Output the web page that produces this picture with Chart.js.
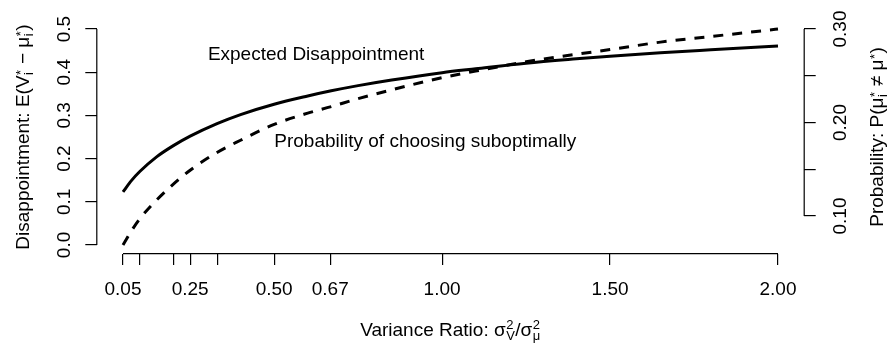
<!DOCTYPE html>
<html>
<head>
<meta charset="utf-8">
<script src="https://cdn.jsdelivr.net/npm/chart.js@4.4.1/dist/chart.umd.min.js"></script>
<style>
  html, body { margin: 0; padding: 0; background: #fff; }
  #wrap { width: 891px; height: 344px; }
</style>
</head>
<body>
<div id="wrap"><canvas id="grafico" width="891" height="344"></canvas></div>
<script>
// ratio de varianzas sigma_v^2 / sigma_mu^2
const ratio = [0.05, 0.075, 0.1, 0.15, 0.2, 0.25, 0.33, 0.4, 0.5, 0.6, 0.67, 0.75, 0.85, 1.0, 1.1, 1.25, 1.4, 1.5, 1.65, 1.8, 2.0];
// decepcion esperada (eje izquierdo)
const disappointment = [0.123, 0.149, 0.170, 0.204, 0.230, 0.252, 0.281, 0.302, 0.326, 0.345, 0.357, 0.369, 0.382, 0.399, 0.408, 0.421, 0.431, 0.437, 0.445, 0.452, 0.461];
// probabilidad de elegir mal (eje derecho)
const probSubopt = [0.069, 0.084, 0.097, 0.117, 0.134, 0.149, 0.168, 0.181, 0.198, 0.210, 0.217, 0.2255, 0.235, 0.248, 0.255, 0.265, 0.273, 0.278, 0.286, 0.292, 0.300];

const xTicks = [0.05, 0.1, 0.2, 0.25, 0.333, 0.5, 0.667, 1.0, 1.5, 2.0];
const xTickLabels = ['0.05', '', '', '0.25', '', '0.50', '0.67', '1.00', '1.50', '2.00'];
const leftTicks = [0, 0.1, 0.2, 0.3, 0.4, 0.5];
const leftTickLabels = ['0.0', '0.1', '0.2', '0.3', '0.4', '0.5'];
const rightTicks = [0.10, 0.15, 0.20, 0.25, 0.30];
const rightTickLabels = ['0.10', '', '0.20', '', '0.30'];

const FUENTE = '"Liberation Sans", Arial, Helvetica, sans-serif';
const NEGRO = '#000';

// rango con 4% extra a cada lado, como hace R
function ampliar(lo, hi) {
    const d = (hi - lo) * 0.04;
    return { min: lo - d, max: hi + d };
}
const rangoX = ampliar(Math.min(...ratio), Math.max(...ratio));
const rangoY = ampliar(leftTicks[0], leftTicks[leftTicks.length - 1]);
const rangoY2 = ampliar(Math.min(...probSubopt), Math.max(...probSubopt));

// texto con subindices / superindices apilados
function medirTexto(ctx, partes) {
    let w = 0;
    partes.forEach(p => {
        if (typeof p === 'string') {
            ctx.font = '19px ' + FUENTE;
            w += ctx.measureText(p).width;
        } else {
            ctx.font = '13px ' + FUENTE;
            w += Math.max(p.sub ? ctx.measureText(p.sub).width : 0, p.sup ? ctx.measureText(p.sup).width : 0) + 1;
        }
    });
    return w;
}

function dibujarTexto(ctx, partes, cx, base) {
    let x = cx - medirTexto(ctx, partes) / 2;
    ctx.textAlign = 'left';
    ctx.textBaseline = 'alphabetic';
    partes.forEach(p => {
        if (typeof p === 'string') {
            ctx.font = '19px ' + FUENTE;
            ctx.fillText(p, x, base);
            x += ctx.measureText(p).width;
        } else {
            ctx.font = '13px ' + FUENTE;
            let w = 0;
            if (p.sub) { ctx.fillText(p.sub, x + 0.5, base + 4); w = ctx.measureText(p.sub).width; }
            if (p.sup) { ctx.fillText(p.sup, x + 0.5, base - (p.supUp || 4)); w = Math.max(w, ctx.measureText(p.sup).width); }
            x += w + 1;
        }
    });
}

function textoVertical(ctx, partes, x, y) {
    ctx.save();
    ctx.translate(x, y);
    ctx.rotate(-Math.PI / 2);
    dibujarTexto(ctx, partes, 0, 0);
    ctx.restore();
}

// ejes al estilo de R: linea solo entre el primer y el ultimo tick, etiquetas giradas
const ejesR = {
    id: 'ejesR',
    afterDraw(chart) {
        const ctx = chart.ctx;
        const area = chart.chartArea;
        const sx = chart.scales.x, sy = chart.scales.y, sy2 = chart.scales.y2;
        ctx.save();
        ctx.strokeStyle = NEGRO;
        ctx.fillStyle = NEGRO;
        ctx.lineWidth = 1.2;

        ctx.beginPath();
        ctx.moveTo(sx.getPixelForValue(xTicks[0]), area.bottom);
        ctx.lineTo(sx.getPixelForValue(xTicks[xTicks.length - 1]), area.bottom);
        ctx.moveTo(area.left, sy.getPixelForValue(leftTicks[0]));
        ctx.lineTo(area.left, sy.getPixelForValue(leftTicks[leftTicks.length - 1]));
        ctx.moveTo(area.right, sy2.getPixelForValue(rightTicks[0]));
        ctx.lineTo(area.right, sy2.getPixelForValue(rightTicks[rightTicks.length - 1]));
        ctx.stroke();

        // etiquetas de los ejes verticales
        ctx.font = '19px ' + FUENTE;
        leftTicks.forEach((v, i) => {
            textoVertical(ctx, [leftTickLabels[i]], area.left - 27, sy.getPixelForValue(v));
        });
        rightTicks.forEach((v, i) => {
            if (rightTickLabels[i]) textoVertical(ctx, [rightTickLabels[i]], area.right + 42, sy2.getPixelForValue(v));
        });

        // titulos de los ejes
        const medioY = (area.top + area.bottom) / 2;
        textoVertical(ctx, ['Disappointment: E(V', { sub: 'i', sup: '*' }, ' \u2212 \u03bc', { sub: 'i', sup: '*' }, ')'], area.left - 68, medioY);
        textoVertical(ctx, ['Probability: P(\u03bc', { sub: 'i', sup: '*' }, ' \u2260 \u03bc', { sup: '*' }, ')'], area.right + 79, medioY);
        dibujarTexto(ctx, ['Variance Ratio: \u03c3', { sub: 'V', sup: '2', supUp: 7 }, '/\u03c3', { sub: '\u03bc', sup: '2', supUp: 7 }], (area.left + area.right) / 2, area.bottom + 82);

        // rotulos de las curvas
        ctx.font = '19px ' + FUENTE;
        ctx.textAlign = 'center';
        ctx.textBaseline = 'middle';
        ctx.fillText('Expected Disappointment', sx.getPixelForValue(0.625), sy.getPixelForValue(0.44));
        ctx.fillText('Probability of choosing suboptimally', sx.getPixelForValue(0.95), sy.getPixelForValue(0.24));
        ctx.restore();
    }
};

const rejilla = { drawOnChartArea: false, drawTicks: true, tickLength: 11.5, color: NEGRO, lineWidth: 1.2 };

new Chart(document.getElementById('grafico').getContext('2d'), {
    type: 'line',
    data: {
        datasets: [{
            label: 'Expected Disappointment',
            data: ratio.map((r, i) => ({ x: r, y: disappointment[i] })),
            yAxisID: 'y',
            borderColor: NEGRO,
            borderWidth: 3,
            pointRadius: 0,
            cubicInterpolationMode: 'monotone'
        }, {
            label: 'Probability of choosing suboptimally',
            data: ratio.map((r, i) => ({ x: r, y: probSubopt[i] })),
            yAxisID: 'y2',
            borderColor: NEGRO,
            borderWidth: 3,
            borderDash: [10, 9],
            borderCapStyle: 'butt',
            pointRadius: 0,
            cubicInterpolationMode: 'monotone'
        }]
    },
    options: {
        responsive: false,
        animation: false,
        devicePixelRatio: 1,
        layout: { padding: { top: 20.4, left: 0, right: 0, bottom: 0 } },
        plugins: { legend: { display: false }, tooltip: { enabled: false } },
        scales: {
            x: {
                type: 'linear',
                position: 'bottom',
                min: rangoX.min,
                max: rangoX.max,
                afterBuildTicks: s => { s.ticks = xTicks.map(v => ({ value: v })); },
                afterFit: s => { s.height = 90.4; },
                grid: rejilla,
                border: { display: false },
                ticks: {
                    autoSkip: false,
                    maxRotation: 0,
                    padding: 13.5,
                    color: NEGRO,
                    font: { family: FUENTE, size: 19 },
                    callback: (v, i) => xTickLabels[i]
                }
            },
            y: {
                type: 'linear',
                position: 'left',
                min: rangoY.min,
                max: rangoY.max,
                afterBuildTicks: s => { s.ticks = leftTicks.map(v => ({ value: v })); },
                afterFit: s => { s.width = 96.8; },
                grid: rejilla,
                border: { display: false },
                ticks: { display: false }
            },
            y2: {
                type: 'linear',
                position: 'right',
                min: rangoY2.min,
                max: rangoY2.max,
                afterBuildTicks: s => { s.ticks = rightTicks.map(v => ({ value: v })); },
                afterFit: s => { s.width = 86.8; },
                grid: rejilla,
                border: { display: false },
                ticks: { display: false }
            }
        }
    },
    plugins: [ejesR]
});
</script>
</body>
</html>
